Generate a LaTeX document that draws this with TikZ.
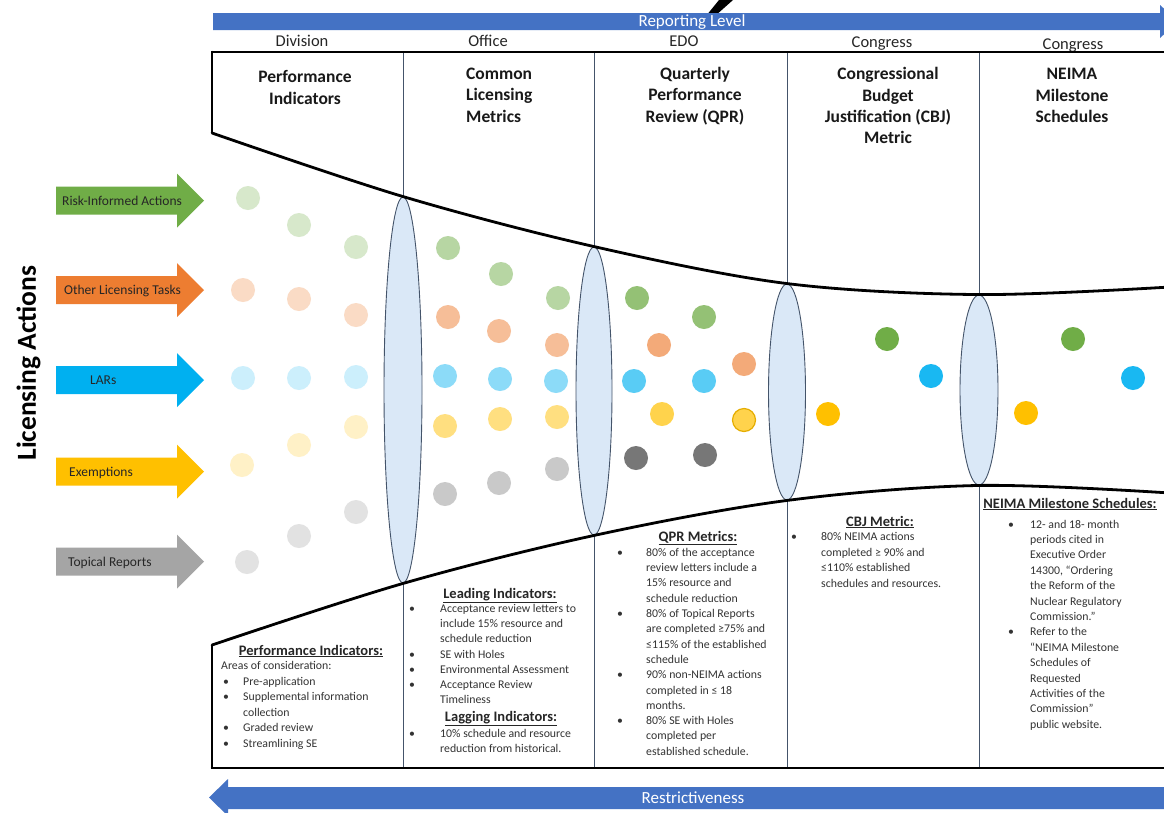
\documentclass[tikz,border=0pt]{standalone}
\usepackage{fontspec}
\setmainfont{Carlito}
\usetikzlibrary{shapes.geometric}
\definecolor{rgreen}{HTML}{70AD47}
\definecolor{rorange}{HTML}{ED7D31}
\definecolor{rblue}{HTML}{00B0F0}
\definecolor{ryellow}{HTML}{FFC000}
\definecolor{rgray}{HTML}{A5A5A5}
\definecolor{rdgray}{HTML}{777777}
\definecolor{barblue}{HTML}{4472C4}
\definecolor{slate}{HTML}{44546A}
\definecolor{lensfill}{HTML}{DAE8F7}
\begin{document}
\begin{tikzpicture}[x=1pt,y=-1pt,
  colhead/.style={font=\fontsize{16.5}{20}\selectfont, inner sep=0, anchor=base, text=black!85},
  ttl/.style={font=\bfseries\fontsize{17.5}{21}\selectfont, inner sep=0, anchor=base, text=black!90},
  body/.style={font=\fontsize{11.8}{15}\selectfont, inner sep=0, anchor=base west, text=black!80},
  bul/.style={font=\fontsize{11.8}{15}\selectfont, inner sep=0, anchor=base, text=black!80},
  subhead/.style={font=\bfseries\fontsize{14.5}{17}\selectfont, inner sep=0, anchor=base, text=black!85},
  dot/.style={circle, minimum size=24pt, inner sep=0},
  lens/.style={ellipse, draw=slate, fill=lensfill, line width=0.9pt, inner sep=0},
  frame/.style={line width=2.8pt, black},
  divider/.style={slate, line width=1pt},
  alabel/.style={font=\fontsize{13.5}{16}\selectfont, inner sep=0, anchor=base west, text=black!85},
  barlabel/.style={font=\fontsize{17}{20}\selectfont, inner sep=0, anchor=base, text=white}
]
\useasboundingbox (0,0) rectangle (1164,812);
\clip (0,0) rectangle (1164,812);
\fill[white] (0,0) rectangle (1164,812);

% cut-off glyph fragment at top
\fill[black] (719,0) -- (733,0) -- (715,16) -- (706,16) -- cycle;

% reporting level arrow
\fill[barblue] (213,13) -- (1160,13) -- (1160,5) -- (1178,21.5) -- (1160,38) -- (1160,30) -- (213,30) -- cycle;
\node[barlabel] (rl) at (692,26.5) {Reporting Level};

% restrictiveness arrow
\fill[barblue] (1170,787) -- (228,787) -- (228,779) -- (209,797.5) -- (228,816) -- (228,809) -- (1170,809) -- cycle;
\node[barlabel] (rs) at (693,803.5) {Restrictiveness};

% column labels
\node[colhead] (c1) at (302,46) {Division};
\node[colhead] (c2) at (488,46) {Office};
\node[colhead] (c3) at (684,46) {EDO};
\node[colhead] (c4) at (882,47) {Congress};
\node[colhead] (c5) at (1073,49) {Congress};

% dividers
\foreach \x [count=\i] in {403,594,787,979}
  \draw[divider] (\x,52) -- (\x,768);

% lenses
\node[lens, minimum width=38pt, minimum height=386pt] (L1) at (403,390) {};
\node[lens, minimum width=36pt, minimum height=288pt] (L2) at (594,391) {};
\node[lens, minimum width=37pt, minimum height=216pt] (L3) at (787,392) {};
\node[lens, minimum width=38pt, minimum height=190pt] (L4) at (979,390) {};

% frame
\draw[frame] (1170,52) -- (210.6,52);
\draw[frame] (212,50.6) -- (212,133);
\draw[frame, line cap=round] plot[smooth, tension=0.55] coordinates {(212,133) (L1.north) (L2.north) (L3.north) (L4.north) (1170,287)};
\draw[frame, line cap=round] plot[smooth, tension=0.55] coordinates {(212,645) (L1.south) (L2.south) (L3.south) (L4.south) (1170,493)};
\draw[frame] (212,645) -- (212,769.4);
\draw[frame] (210.6,768) -- (1170,768);

% top titles
\node[ttl] (t1a) at (305,82) {Performance};
\node[ttl] (t1b) at (305,104) {Indicators};
\node[ttl, anchor=base west] (t2a) at (466,79) {Common};
\node[ttl, anchor=base west] (t2b) at (466,100.5) {Licensing};
\node[ttl, anchor=base west] (t2c) at (466,122) {Metrics};
\node[ttl] (t3a) at (695,79) {Quarterly};
\node[ttl] (t3b) at (695,100.5) {Performance};
\node[ttl] (t3c) at (695,122) {Review (QPR)};
\node[ttl] (t4a) at (888,79.5) {Congressional};
\node[ttl] (t4b) at (888,101) {Budget};
\node[ttl] (t4c) at (888,122) {Justification (CBJ)};
\node[ttl] (t4d) at (888,143) {Metric};
\node[ttl] (t5a) at (1072,79.5) {NEIMA};
\node[ttl] (t5b) at (1072,101) {Milestone};
\node[ttl] (t5c) at (1072,122) {Schedules};

% left arrows
\foreach \yc/\c/\lbl/\lx [count=\i] in {200.5/rgreen/Risk-Informed Actions/62, 290/rorange/Other Licensing Tasks/64, 380/rblue/LARs/90, 471.5/ryellow/Exemptions/69, 561.5/rgray/Topical Reports/68}{
  \fill[\c] (56,\yc-14) -- (177,\yc-14) -- (177,\yc-27) -- (204,\yc) -- (177,\yc+27) -- (177,\yc+14) -- (56,\yc+14) -- cycle;
  \node[alabel] (al\i) at (\lx,\yc+4.5) {\lbl};
}
\node[font=\bfseries\fontsize{27.5}{30}\selectfont, rotate=90, inner sep=0, text=black] (la) at (28.5,363) {Licensing Actions};

% dots
\foreach \x/\y/\c [count=\i] in {
  248/198/rgreen!28, 299/225/rgreen!28, 356/247/rgreen!28,
  243/290/rorange!28, 299/299/rorange!28, 356/315/rorange!28,
  243/378/rblue!20, 299/378/rblue!20, 356/377/rblue!20,
  242/465/ryellow!22, 299/445/ryellow!22, 356/427/ryellow!22,
  247/562/rgray!32, 299/536/rgray!32, 356/512/rgray!32,
  448/248/rgreen!50, 501/274/rgreen!50, 558/298/rgreen!50,
  448/317/rorange!50, 499/331/rorange!50, 557/345/rorange!50,
  445/376/rblue!45, 500/379/rblue!45, 556/381/rblue!45,
  445/426/ryellow!50, 500/419/ryellow!50, 557/417/ryellow!50,
  445/494/rgray!60, 499/483/rgray!60, 557/469/rgray!60,
  637/298/rgreen!75, 704/317/rgreen!75,
  659/345/rorange!65, 744/364/rorange!65,
  634/381/rblue!65, 704/381/rblue!65,
  662/414/ryellow!70,
  636/458/rdgray, 705/455/rdgray,
  887/339/rgreen, 931/376/rblue!90, 828/414/ryellow,
  1073/339/rgreen, 1133/378/rblue!90, 1026/413/ryellow}
  \node[dot, fill=\c] (d\i) at (\x,\y) {};
\node[dot, fill=ryellow!70, draw=ryellow!90!black, line width=1.2pt, minimum size=23pt] (dy) at (744,420) {};

% bottom: column 1
\node[subhead] (h1) at (311,655) {\underline{Performance Indicators:}};
\node[body] (pa) at (221,669) {Areas of consideration:};
\foreach \t [count=\i from 0] in {Pre-application, Supplemental information, collection, Graded review, Streamlining SE}
  \node[body] (p\i) at (243,685+15.5*\i) {\t};
\foreach \i in {0,1,3,4}
  \node[bul] (pb\i) at (226,685+15.5*\i) {•};

% bottom: column 2
\node[subhead] (h2) at (500,598) {\underline{Leading Indicators:}};
\foreach \t [count=\i from 0] in {Acceptance review letters to, include 15\% resource and, schedule reduction, SE with Holes, Environmental Assessment, Acceptance Review, Timeliness}
  \node[body] (o\i) at (440,612.5+15.2*\i) {\t};
\foreach \i in {0,3,4,5}
  \node[bul] (ob\i) at (412,612.5+15.2*\i) {•};
\node[subhead] (h2b) at (501,721) {\underline{Lagging Indicators:}};
\node[body] (g0) at (440,737) {10\% schedule and resource};
\node[body] (g1) at (440,752) {reduction from historical.};
\node[bul] (gb) at (412,737) {•};

% bottom: column 3
\node[subhead] (h3) at (698,541) {\underline{QPR Metrics:}};
\foreach \t [count=\i from 0] in {80\% of the acceptance, review letters include a, 15\% resource and, schedule reduction, 80\% of Topical Reports, are completed ≥75\% and, ≤115\% of the established, schedule, 90\% non-NEIMA actions, completed in ≤ 18, months., 80\% SE with Holes, completed per, established schedule.}
  \node[body] (q\i) at (646,556.3+15.3*\i) {\t};
\foreach \i in {0,4,8,11}
  \node[bul] (qb\i) at (620,556.3+15.3*\i) {•};

% bottom: column 4
\node[subhead] (h4) at (880,526) {\underline{CBJ Metric:}};
\foreach \t [count=\i from 0] in {80\% NEIMA actions, completed ≥ 90\% and, ≤110\% established, schedules and resources.}
  \node[body] (b\i) at (821,540.5+15.5*\i) {\t};
\node[bul] (bb) at (794,540.5) {•};

% bottom: column 5
\node[subhead] (h5) at (1070,508) {\underline{NEIMA Milestone Schedules:}};
\foreach \t [count=\i from 0] in {12- and 18- month, periods cited in, Executive Order, {14300, “Ordering}, the Reform of the, Nuclear Regulatory, Commission.”, Refer to the, “NEIMA Milestone, Schedules of, Requested, Activities of the, Commission”, public website.}
  \node[body] (n\i) at (1030,528+15.4*\i) {\t};
\foreach \i in {0,7}
  \node[bul] (nb\i) at (1011,528+15.4*\i) {•};
\end{tikzpicture}
\end{document}
